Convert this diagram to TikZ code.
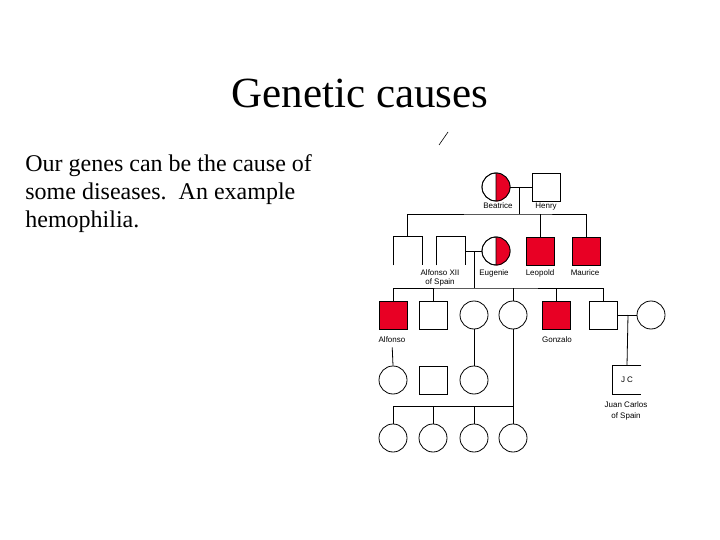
\documentclass[tikz,border=0pt]{standalone}
\usepackage{fontspec}
\setmainfont{Liberation Serif}
\newfontfamily\labelfont{Liberation Sans}
\definecolor{carrier}{RGB}{232,0,36}
\begin{document}
\begin{tikzpicture}[y=-1pt,x=1pt,line width=0.8pt,
    male/.style={draw,minimum size=28pt,inner sep=0pt},
    female/.style={draw,circle,minimum size=28pt,inner sep=0pt},
    affected/.style={male,fill=carrier},
    opensq/.style={minimum size=28pt,inner sep=0pt},
    who/.style={font=\labelfont\fontsize{8}{9}\selectfont,align=center,inner sep=0pt,anchor=base},
    whotwo/.style={who,anchor=north}]
    \useasboundingbox (0,0) rectangle (720,540);
    % title and text
    \node[anchor=base,font=\fontsize{43}{44}\selectfont] (title) at (360,108) {Genetic causes};
    \node[anchor=north west,align=left,inner sep=0pt,font=\fontsize{24}{28.3}\selectfont] (text) at (25,154)
        {Our genes can be the cause of\\some diseases.\ \ An example\\hemophilia.};
    \draw[line width=0.6pt] (439,145) -- (448,132);
    % generation 1
    \node[female] (bea) at (496,187) {};
    \fill[carrier] (bea.south) arc[start angle=-90,end angle=90,radius=14pt] -- cycle;
    \draw (bea.center) circle (14pt) (bea.north) -- (bea.south);
    \node[male] (henry) at (546,187) {};
    \node[who] at (498,208.5) {Beatrice};
    \node[who] at (546,208.5) {Henry};
    \coordinate (m1) at (519,187);
    \coordinate (s1) at (519,214);
    \draw (bea.east) -- (henry.west) (m1) -- (s1);
    % generation 2
    \node[opensq] (sqa) at (407.5,251) {};
    \node[opensq] (alfxii) at (451,251) {};
    \foreach \n in {sqa,alfxii} {
        \draw (\n.south west) |- (\n.north east) -- (\n.south east);
    }
    \node[female] (eug) at (496,251) {};
    \fill[carrier] (eug.south) arc[start angle=-90,end angle=90,radius=14pt] -- cycle;
    \draw (eug.center) circle (14pt) (eug.north) -- (eug.south);
    \node[affected] (leo) at (540,251) {};
    \node[affected] (mau) at (586,251) {};
    \node[whotwo] at (440,269) {Alfonso XII\\of Spain};
    \node[who] at (494,275) {Eugenie};
    \node[who] at (540,275) {Leopold};
    \node[who] at (585,275) {Maurice};
    \draw (sqa.north) |- (s1) -| (mau.north);
    \draw (leo.north) -- (leo.north |- s1);
    \coordinate (m2) at (474,251);
    \coordinate (s2) at (474,288);
    \draw (alfxii.east) -- (eug.west) (m2) -- (s2);
    % generation 3
    \node[affected] (alfonso) at (393,315) {};
    \node[male] (sqb) at (433,315) {};
    \node[female] (fa) at (474,315) {};
    \node[female] (fb) at (513,315) {};
    \node[affected] (gonzalo) at (556,315) {};
    \node[male] (sqc) at (603,315) {};
    \node[female] (wife) at (651,315) {};
    \node[who] (lalf) at (392,342) {Alfonso};
    \node[who] at (557,342) {Gonzalo};
    \draw (alfonso.north) |- (s2) -| (sqc.north);
    \foreach \n in {sqb,fb,gonzalo} {
        \draw (\n.north) -- (\n.north |- s2);
    }
    \coordinate (m3) at (628,315);
    \draw (sqc.east) -- (wife.west);
    % generation 4
    \node[female] (ga) at (393,380) {};
    \node[male] (gb) at (433,380) {};
    \node[female] (gc) at (474,380) {};
    \node[opensq,font=\labelfont\fontsize{8}{9}\selectfont] (jc) at (627,380) {J C};
    \draw (jc.north east) -| (jc.south west) -- (jc.south east);
    \node[whotwo,font=\labelfont\fontsize{8}{11}\selectfont] at (626,401) {Juan Carlos\\of Spain};
    \draw (m3) -- (jc.north);
    \draw[shorten <=5pt] (lalf.south) -- (ga.north);
    \draw (fa.south) -- (gc.north);
    % generation 5
    \foreach \x/\n in {393/ha,433/hb,474/hc,513/hd} {
        \node[female] (\n) at (\x,438) {};
    }
    \coordinate (s3) at (513,406);
    \draw (fb.south) -- (hd.north);
    \draw (ha.north) |- (s3);
    \foreach \n in {hb,hc} {
        \draw (\n.north) -- (\n.north |- s3);
    }
\end{tikzpicture}
\end{document}
